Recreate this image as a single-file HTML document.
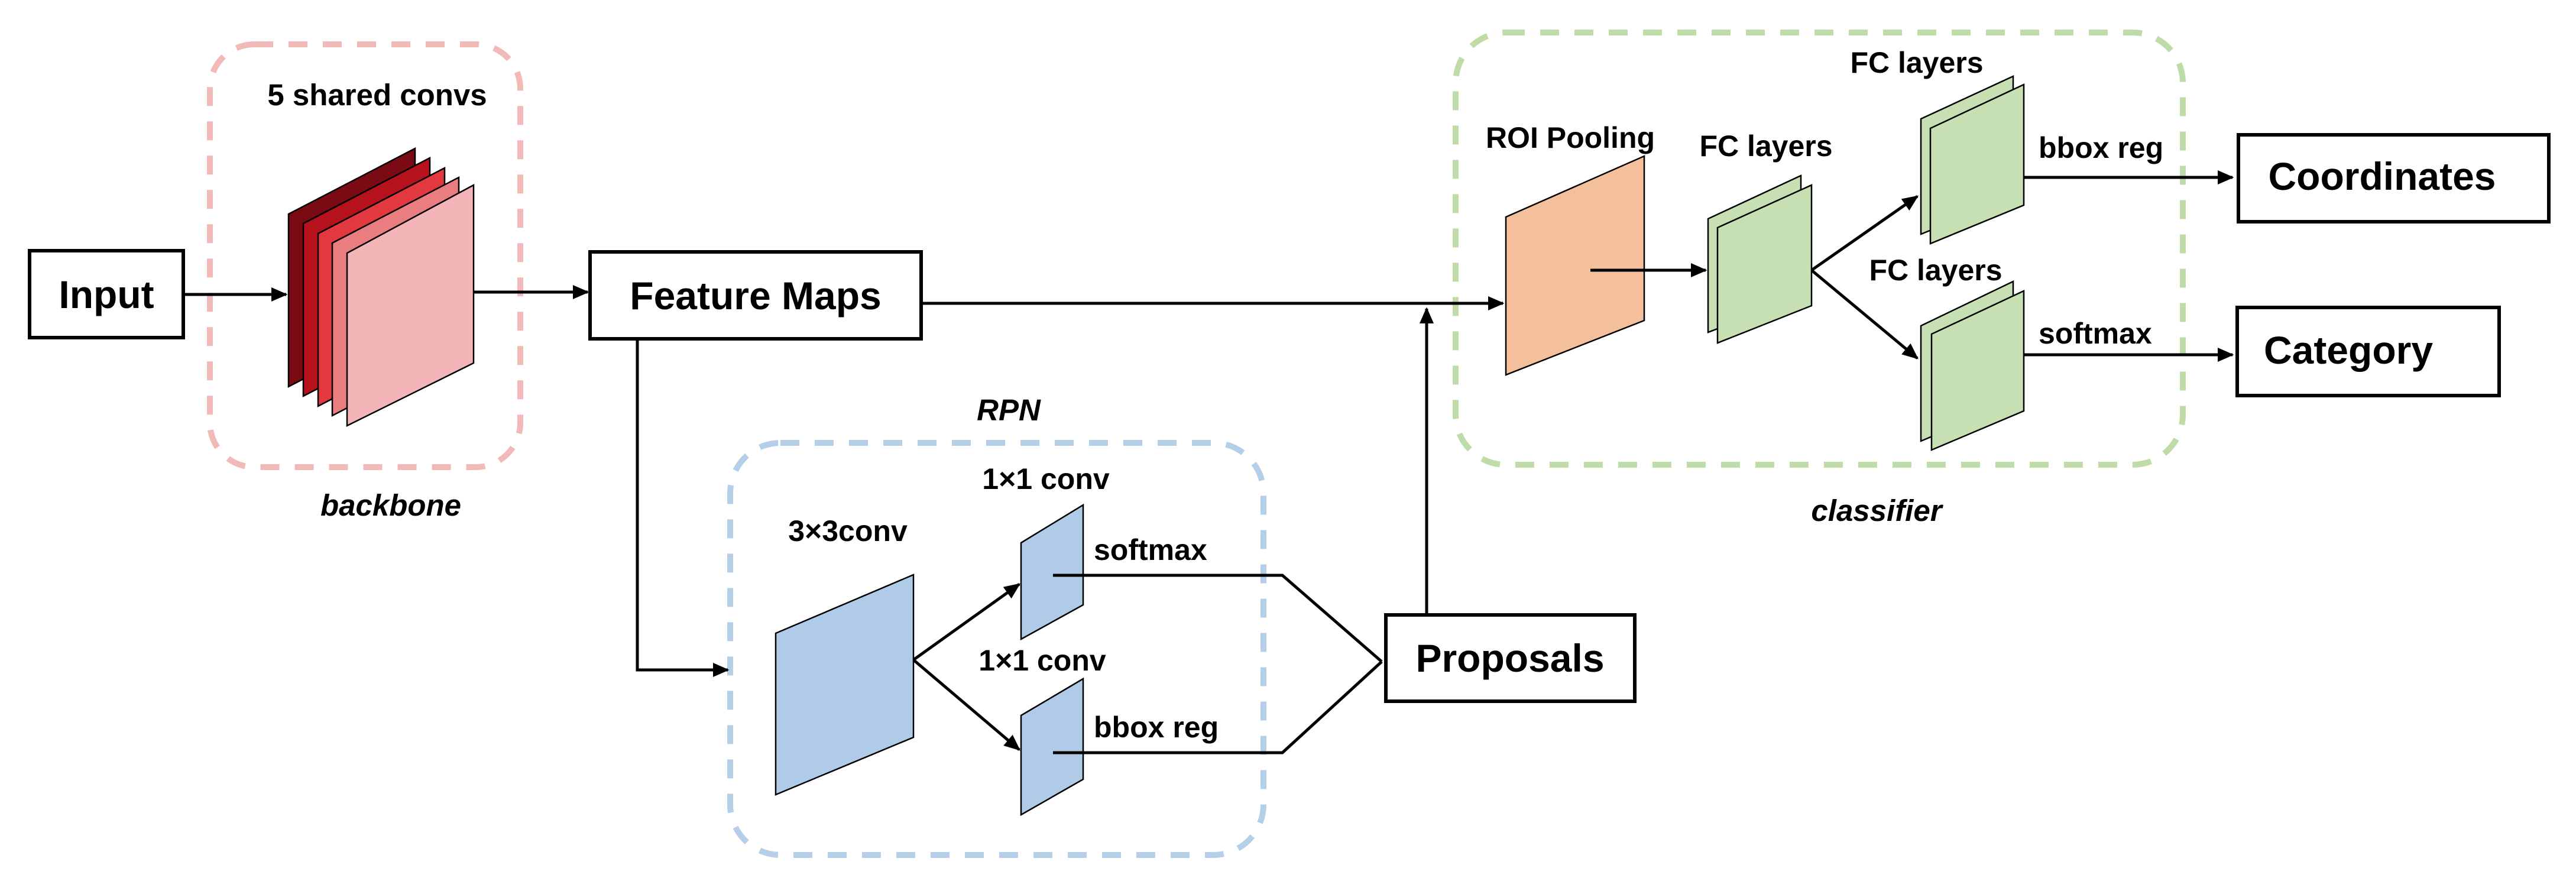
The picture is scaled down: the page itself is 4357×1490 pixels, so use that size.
<!DOCTYPE html>
<html><head><meta charset="utf-8"><style>
html,body{margin:0;padding:0;background:#fff;}
svg{display:block;}
text{font-family:"Liberation Sans",Arial,sans-serif;font-weight:bold;fill:#000;}
</style></head><body>
<svg width="4357" height="1490" viewBox="0 0 4357 1490" xmlns="http://www.w3.org/2000/svg">
<defs>
<marker id="ah" markerWidth="6" markerHeight="6" refX="5" refY="3" orient="auto" markerUnits="strokeWidth">
<path d="M0,0.6 L5.5,3 L0,5.4 z" fill="#000"/>
</marker>
</defs>
<rect width="4357" height="1490" fill="#fff"/>

<!-- dashed group boxes -->
<rect x="355" y="75" width="525" height="715" rx="75" fill="none" stroke="#f2b9b9" stroke-width="10" stroke-dasharray="32,26"/>
<rect x="1235" y="749" width="902" height="697" rx="85" fill="none" stroke="#b6cfe8" stroke-width="10" stroke-dasharray="32,26"/>
<rect x="2462" y="55" width="1230" height="731" rx="85" fill="none" stroke="#bedba8" stroke-width="10" stroke-dasharray="32,26"/>

<!-- group labels -->
<text x="638" y="178" font-size="51" text-anchor="middle">5 shared convs</text>
<text x="661" y="872" font-size="51" text-anchor="middle" font-style="italic">backbone</text>
<text x="1706" y="711" font-size="51" text-anchor="middle" font-style="italic">RPN</text>
<text x="3174" y="881" font-size="51" text-anchor="middle" font-style="italic">classifier</text>

<!-- Input box -->
<rect x="50" y="424" width="260" height="147" fill="#fff" stroke="#000" stroke-width="6"/>
<text x="180" y="521" font-size="66" text-anchor="middle">Input</text>

<!-- backbone stack -->
<g stroke="#000" stroke-width="2.5">
<polygon points="488,362 702,251 702,543 488,654" fill="#7a0a14"/>
<polygon points="513,378 727,267 727,559 513,670" fill="#b5121d"/>
<polygon points="538,395 752,284 752,576 538,687" fill="#e2383f"/>
<polygon points="562,411 776,300 776,592 562,703" fill="#e97d7f"/>
<polygon points="587,428 801,313 801,614 587,720" fill="#f4b5b8"/>
</g>

<!-- arrows backbone -->
<line x1="311" y1="498" x2="484" y2="498" stroke="#000" stroke-width="5" marker-end="url(#ah)"/>
<line x1="801" y1="494" x2="994" y2="494" stroke="#000" stroke-width="5" marker-end="url(#ah)"/>

<!-- Feature Maps -->
<rect x="998" y="426" width="560" height="147" fill="#fff" stroke="#000" stroke-width="6"/>
<text x="1278" y="523" font-size="66" text-anchor="middle">Feature Maps</text>

<!-- feature maps to ROI -->
<line x1="1558" y1="513" x2="2542" y2="513" stroke="#000" stroke-width="5" marker-end="url(#ah)"/>
<!-- down to RPN -->
<polyline points="1078,573 1078,1133 1231,1133" fill="none" stroke="#000" stroke-width="5" marker-end="url(#ah)"/>

<!-- RPN -->
<text x="1434" y="915" font-size="50" text-anchor="middle">3×3conv</text>
<polygon points="1312,1071 1545,972 1545,1247 1312,1344" fill="#afcbe8" stroke="#000" stroke-width="2.5"/>
<text x="1769" y="827" font-size="50" text-anchor="middle">1×1 conv</text>
<text x="1763" y="1134" font-size="50" text-anchor="middle">1×1 conv</text>
<polygon points="1727,918 1832,854 1832,1023 1727,1081" fill="#afcbe8" stroke="#000" stroke-width="2.5"/>
<polygon points="1727,1210 1832,1148 1832,1318 1727,1378" fill="#afcbe8" stroke="#000" stroke-width="2.5"/>
<line x1="1545" y1="1116" x2="1724" y2="988" stroke="#000" stroke-width="5" marker-end="url(#ah)"/>
<line x1="1545" y1="1116" x2="1724" y2="1268" stroke="#000" stroke-width="5" marker-end="url(#ah)"/>
<text x="1850" y="947" font-size="50">softmax</text>
<text x="1850" y="1247" font-size="50">bbox reg</text>
<polyline points="1781,973 2169,973 2337,1119" fill="none" stroke="#000" stroke-width="5"/>
<polyline points="1781,1273 2169,1273 2337,1119" fill="none" stroke="#000" stroke-width="5"/>

<!-- Proposals -->
<rect x="2344" y="1040" width="421" height="146" fill="#fff" stroke="#000" stroke-width="6"/>
<text x="2554" y="1136" font-size="66" text-anchor="middle">Proposals</text>
<line x1="2413" y1="1040" x2="2413" y2="522" stroke="#000" stroke-width="5" marker-end="url(#ah)"/>

<!-- classifier -->
<text x="2656" y="250" font-size="50" text-anchor="middle">ROI Pooling</text>
<polygon points="2547,367 2781,264 2781,542 2547,634" fill="#f4bf9b" stroke="#000" stroke-width="2.5"/>
<line x1="2690" y1="457" x2="2885" y2="457" stroke="#000" stroke-width="5" marker-end="url(#ah)"/>
<text x="2987" y="264" font-size="50" text-anchor="middle">FC layers</text>
<g fill="#c6e0b4" stroke="#000" stroke-width="2.5">
<polygon points="2889,370 3046,297 3046,502 2889,562"/>
<polygon points="2905,385 3064,313 3064,517 2905,580"/>
<polygon points="3249,201 3405,129 3405,333 3249,396"/>
<polygon points="3265,217 3423,143 3423,347 3265,412"/>
<polygon points="3249,551 3405,476 3405,680 3249,746"/>
<polygon points="3267,565 3423,492 3423,695 3267,761"/>
</g>
<line x1="3064" y1="457" x2="3243" y2="332" stroke="#000" stroke-width="5" marker-end="url(#ah)"/>
<line x1="3064" y1="457" x2="3243" y2="606" stroke="#000" stroke-width="5" marker-end="url(#ah)"/>
<text x="3242" y="123" font-size="50" text-anchor="middle">FC layers</text>
<text x="3274" y="474" font-size="50" text-anchor="middle">FC layers</text>
<text x="3448" y="267" font-size="50">bbox reg</text>
<text x="3448" y="581" font-size="50">softmax</text>
<line x1="3423" y1="300" x2="3776" y2="300" stroke="#000" stroke-width="5" marker-end="url(#ah)"/>
<line x1="3423" y1="600" x2="3776" y2="600" stroke="#000" stroke-width="5" marker-end="url(#ah)"/>

<rect x="3786" y="228" width="525" height="147" fill="#fff" stroke="#000" stroke-width="6"/>
<text x="4029" y="321" font-size="66" text-anchor="middle">Coordinates</text>
<rect x="3784" y="520" width="443" height="149" fill="#fff" stroke="#000" stroke-width="6"/>
<text x="3972" y="615" font-size="66" text-anchor="middle">Category</text>
</svg>
</body></html>
